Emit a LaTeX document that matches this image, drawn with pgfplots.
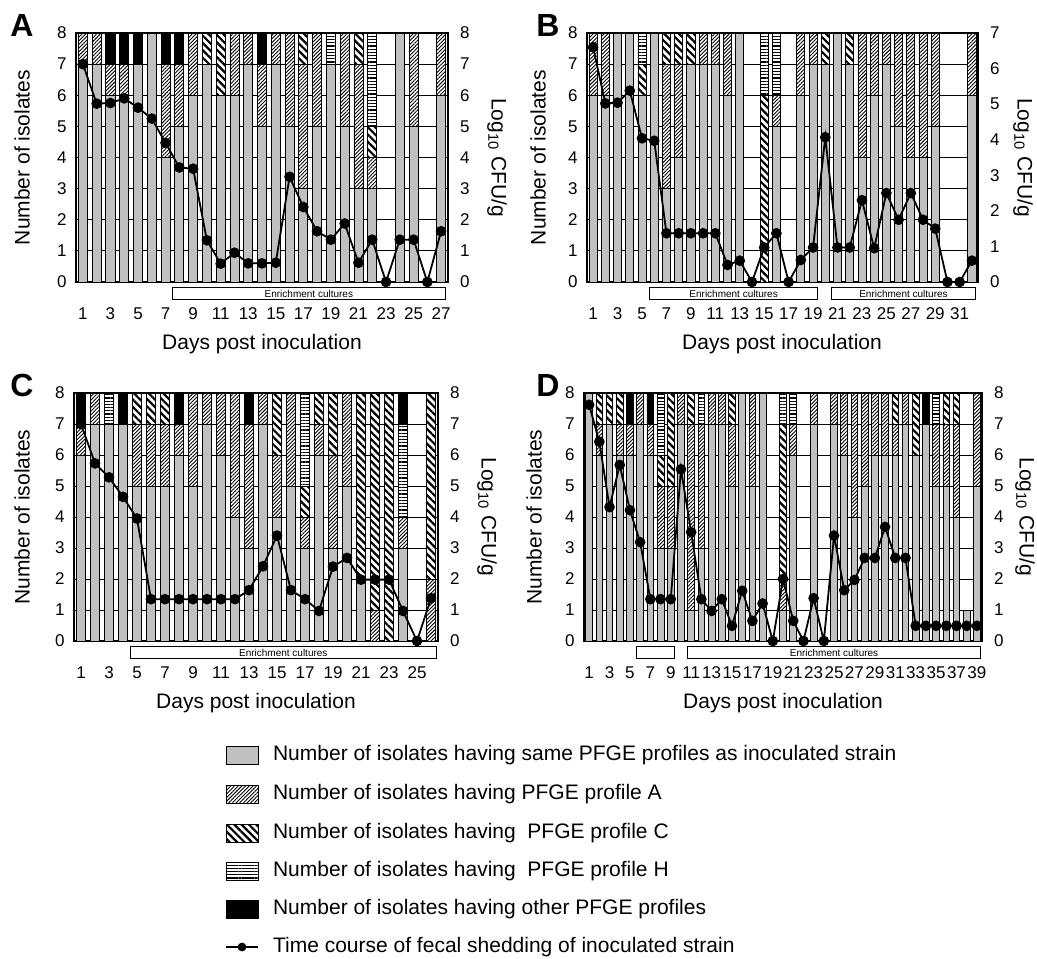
\documentclass[border=0pt]{standalone}
\usepackage{fontspec}
\setmainfont{Liberation Sans}
\usepackage{pgfplots}
\usepackage{pgfplotstable}
\pgfplotsset{compat=1.18}
\usetikzlibrary{patterns.meta}

\definecolor{same}{RGB}{192,192,192}

% columns: day, same strain (G), profile A, profile C, profile H, other (O), log10 CFU/g (L)
\pgfplotstableread{
day G A C H O L
1 7 1 0 0 0 7.00
2 7 1 0 0 0 5.73
3 6 1 0 0 1 5.75
4 6 1 0 0 1 5.90
5 7 0 0 0 1 5.60
6 8 0 0 0 0 5.25
7 4 3 0 0 1 4.47
8 5 2 0 0 1 3.68
9 6 2 0 0 0 3.64
10 7 0 1 0 0 1.34
11 6 0 2 0 0 0.59
12 6 2 0 0 0 0.94
13 7 1 0 0 0 0.60
14 5 2 0 0 1 0.60
15 7 1 0 0 0 0.62
16 5 3 0 0 0 3.38
17 3 4 1 0 0 2.41
18 5 3 0 0 0 1.63
19 7 0 0 1 0 1.36
20 5 3 0 0 0 1.88
21 3 4 1 0 0 0.62
22 3 1 1 3 0 1.36
23 0 0 0 0 0 0.00
24 8 0 0 0 0 1.36
25 5 3 0 0 0 1.36
26 0 0 0 0 0 0.00
27 6 2 0 0 0 1.63
}\tabA

\pgfplotstableread{
day G A C H O L
1 6 2 0 0 0 6.60
2 6 2 0 0 0 5.02
3 8 0 0 0 0 5.04
4 8 0 0 0 0 5.38
5 6 0 1 1 0 4.04
6 8 0 0 0 0 3.97
7 3 4 1 0 0 1.37
8 4 3 1 0 0 1.37
9 7 0 1 0 0 1.37
10 7 1 0 0 0 1.37
11 7 1 0 0 0 1.37
12 6 2 0 0 0 0.48
13 8 0 0 0 0 0.60
14 0 0 0 0 0 0.00
15 0 0 6 2 0 0.97
16 5 1 0 2 0 1.37
17 0 0 0 0 0 0.00
18 6 2 0 0 0 0.62
19 7 1 0 0 0 0.97
20 7 0 1 0 0 4.07
21 8 0 0 0 0 0.97
22 7 0 1 0 0 0.97
23 4 4 0 0 0 2.30
24 6 2 0 0 0 0.95
25 7 1 0 0 0 2.50
26 5 3 0 0 0 1.75
27 4 4 0 0 0 2.50
28 4 4 0 0 0 1.75
29 5 3 0 0 0 1.50
30 0 0 0 0 0 0.00
31 0 0 0 0 0 0.00
32 6 2 0 0 0 0.60
}\tabB

\pgfplotstableread{
day G A C H O L
1 6 1 0 0 1 7.00
2 7 1 0 0 0 5.73
3 7 0 0 1 0 5.28
4 7 0 0 0 1 4.65
5 5 2 1 0 0 3.95
6 5 2 1 0 0 1.35
7 5 2 1 0 0 1.35
8 6 1 0 0 1 1.35
9 5 3 0 0 0 1.35
10 7 1 0 0 0 1.35
11 6 2 0 0 0 1.35
12 4 4 0 0 0 1.35
13 3 4 0 0 1 1.64
14 7 1 0 0 0 2.41
15 4 2 2 0 0 3.40
16 5 3 0 0 0 1.64
17 3 1 1 3 0 1.35
18 6 1 1 0 0 0.97
19 3 3 2 0 0 2.40
20 5 3 0 0 0 2.68
21 2 0 6 0 0 1.98
22 0 1 7 0 0 1.98
23 0 0 8 0 0 1.98
24 3 1 0 3 1 0.97
25 0 0 0 0 0 0.00
26 0 2 6 0 0 1.38
}\tabC

\pgfplotstableread{
day G A C H O L
1 8 0 0 0 0 7.62
2 6 1 1 0 0 6.43
3 7 0 1 0 0 4.32
4 6 1 1 0 0 5.68
5 6 1 0 0 1 4.22
6 7 1 0 0 0 3.19
7 6 1 0 0 1 1.35
8 3 2 1 2 0 1.35
9 3 2 3 0 0 1.35
10 7 1 0 0 0 5.54
11 1 6 1 0 0 3.51
12 3 4 0 1 0 1.35
13 7 1 0 0 0 0.97
14 7 1 0 0 0 1.35
15 5 2 1 0 0 0.49
16 8 0 0 0 0 1.62
17 5 3 0 0 0 0.65
18 8 0 0 0 0 1.21
19 0 0 0 0 0 0.00
20 1 1 5 1 0 2.00
21 6 1 0 1 0 0.65
22 0 0 0 0 0 0.00
23 7 1 0 0 0 1.38
24 0 0 0 0 0 0.00
25 7 1 0 0 0 3.40
26 6 2 0 0 0 1.64
27 4 4 0 0 0 1.97
28 5 3 0 0 0 2.68
29 6 2 0 0 0 2.68
30 6 2 0 0 0 3.68
31 6 1 1 0 0 2.68
32 7 1 0 0 0 2.68
33 6 0 2 0 0 0.49
34 7 0 0 0 1 0.49
35 5 2 0 1 0 0.49
36 5 2 1 0 0 0.49
37 4 3 1 0 0 0.49
38 1 0 0 0 0 0.49
39 5 3 0 0 0 0.49
}\tabD

\tikzset{
  sG/.style={fill=same, draw=black, line width=0.4pt},
  sA/.style={fill=white, draw=black, line width=0.4pt,
    postaction={pattern={Lines[angle=45,distance=1.3pt,line width=0.45pt]}}},
  sC/.style={fill=white, draw=black, line width=0.4pt,
    postaction={pattern={Lines[angle=-45,distance=2.6pt,line width=1.1pt]}}},
  sH/.style={fill=white, draw=black, line width=0.4pt,
    postaction={pattern={Lines[angle=0,distance=1.6pt,line width=0.6pt]}}},
  sO/.style={fill=black, draw=black, line width=0.4pt},
  sL/.style={black, line width=0.9pt, mark=*, mark size=2.2pt},
  ttl/.style={font=\fontsize{10.5}{12}\selectfont},
  enr/.style={font=\fontsize{5}{6}\selectfont, inner sep=0pt},
  ebox/.style={line width=0.5pt},
}

\pgfplotsset{
  isolates/.style={
    scale only axis, anchor=south west,
    ybar stacked, bar width=0.66,
    ymin=0, ymax=8, ytick={0,...,8},
    ytick pos=left, xtick pos=bottom, major tick length=0pt,
    ymajorgrids, grid style={black, line width=0.4pt},
    axis line style={line width=0.6pt},
    ticklabel style={font=\fontsize{8.5}{9}\selectfont},
    /pgf/number format/assume math mode=true,
    yticklabel style={xshift=-1.2pt},
    xticklabel style={yshift=-9.5pt},
    clip=false,
  },
  shedding/.style={
    scale only axis, anchor=south west,
    axis x line=none, axis y line*=right,
    ymin=0, major tick length=0pt,
    axis line style={line width=0.6pt},
    ticklabel style={font=\fontsize{8.5}{9}\selectfont},
    /pgf/number format/assume math mode=true,
    yticklabel style={xshift=2.5pt},
  },
}

\begin{document}
\begin{tikzpicture}
\useasboundingbox (0,0) rectangle (518.5pt,-479pt);

% ---------- A ----------
\begin{axis}[isolates, at={(38pt,-141pt)}, width=186pt, height=124.5pt,
  xmin=0.5, xmax=27.5, xtick={1,3,...,27}]
\addplot[sG] table[x=day,y=G] {\tabA};
\addplot[sA] table[x=day,y=A] {\tabA};
\addplot[sC] table[x=day,y=C] {\tabA};
\addplot[sH] table[x=day,y=H] {\tabA};
\addplot[sO] table[x=day,y=O] {\tabA};
\draw[ebox] (axis cs:7.5,-0.19) rectangle (axis cs:27.3,-0.55);
\node[enr] at (axis cs:17.4,-0.37) {Enrichment cultures};
\end{axis}
\begin{axis}[shedding, at={(38pt,-141pt)}, width=186pt, height=124.5pt,
  xmin=0.5, xmax=27.5, ymax=8, ytick={0,...,8}]
\addplot[sL] table[x=day,y=L] {\tabA};
\end{axis}

% ---------- B ----------
\begin{axis}[isolates, at={(293.5pt,-141pt)}, width=195.5pt, height=124.5pt,
  xmin=0.5, xmax=32.5, xtick={1,3,...,31}]
\addplot[sG] table[x=day,y=G] {\tabB};
\addplot[sA] table[x=day,y=A] {\tabB};
\addplot[sC] table[x=day,y=C] {\tabB};
\addplot[sH] table[x=day,y=H] {\tabB};
\addplot[sO] table[x=day,y=O] {\tabB};
\draw[ebox] (axis cs:5.6,-0.19) rectangle (axis cs:19.4,-0.55);
\node[enr] at (axis cs:12.5,-0.37) {Enrichment cultures};
\draw[ebox] (axis cs:20.5,-0.19) rectangle (axis cs:32.3,-0.55);
\node[enr] at (axis cs:26.4,-0.37) {Enrichment cultures};
\end{axis}
\begin{axis}[shedding, at={(293.5pt,-141pt)}, width=195.5pt, height=124.5pt,
  xmin=0.5, xmax=32.5, ymax=7, ytick={0,...,7}]
\addplot[sL] table[x=day,y=L] {\tabB};
\end{axis}

% ---------- C ----------
\begin{axis}[isolates, at={(37pt,-320.5pt)}, width=182pt, height=124pt,
  xmin=0.5, xmax=26.5, xtick={1,3,...,25}]
\addplot[sG] table[x=day,y=G] {\tabC};
\addplot[sA] table[x=day,y=A] {\tabC};
\addplot[sC] table[x=day,y=C] {\tabC};
\addplot[sH] table[x=day,y=H] {\tabC};
\addplot[sO] table[x=day,y=O] {\tabC};
\draw[ebox] (axis cs:4.5,-0.19) rectangle (axis cs:26.4,-0.55);
\node[enr] at (axis cs:15.45,-0.37) {Enrichment cultures};
\end{axis}
\begin{axis}[shedding, at={(37pt,-320.5pt)}, width=182pt, height=124pt,
  xmin=0.5, xmax=26.5, ymax=8, ytick={0,...,8}]
\addplot[sL] table[x=day,y=L] {\tabC};
\end{axis}

% ---------- D ----------
\begin{axis}[isolates, at={(292pt,-320.5pt)}, width=199pt, height=124pt,
  xmin=0.5, xmax=39.5, xtick={1,3,...,39}]
\addplot[sG] table[x=day,y=G] {\tabD};
\addplot[sA] table[x=day,y=A] {\tabD};
\addplot[sC] table[x=day,y=C] {\tabD};
\addplot[sH] table[x=day,y=H] {\tabD};
\addplot[sO] table[x=day,y=O] {\tabD};
\draw[ebox] (axis cs:5.6,-0.19) rectangle (axis cs:9.4,-0.55);
\draw[ebox] (axis cs:10.6,-0.19) rectangle (axis cs:39.4,-0.55);
\node[enr] at (axis cs:25,-0.37) {Enrichment cultures};
\end{axis}
\begin{axis}[shedding, at={(292pt,-320.5pt)}, width=199pt, height=124pt,
  xmin=0.5, xmax=39.5, ymax=8, ytick={0,...,8}]
\addplot[sL] table[x=day,y=L] {\tabD};
\end{axis}

% panel letters and axis titles
\foreach \lx/\ly/\lt in {11/-12.5/A, 274/-12.5/B, 11/-192.5/C, 274/-192.5/D}
  \node[font=\bfseries\fontsize{16}{18}\selectfont] at (\lx pt,\ly pt) {\lt};
\foreach \lx/\ly in {11/-78.75, 269/-78.75, 11/-258.5, 267/-258.5}
  \node[ttl, rotate=90] at (\lx pt,\ly pt) {Number of isolates};
\foreach \lx/\ly in {248.5/-78.75, 511.5/-78.75, 243.5/-258.5, 512.5/-258.5}
  \node[ttl, rotate=-90] at (\lx pt,\ly pt) {Log\textsubscript{10} CFU/g};
\foreach \lx/\ly in {131/-172, 391/-172, 128/-351.5, 391.5/-351.5}
  \node[ttl] at (\lx pt,\ly pt) {Days post inoculation};

% legend
\draw[sG] (113pt,-373pt) rectangle (129pt,-382pt);
\node[ttl, anchor=west] at (133pt,-377.5pt) {Number of isolates having same PFGE profiles as inoculated strain};
\draw[sA] (113pt,-392.5pt) rectangle (129pt,-401.5pt);
\node[ttl, anchor=west] at (133pt,-397pt) {Number of isolates having PFGE profile A};
\draw[sC] (113pt,-412pt) rectangle (129pt,-421pt);
\node[ttl, anchor=west] at (133pt,-416.5pt) {Number of isolates having\ \ PFGE profile C};
\draw[sH] (113pt,-431pt) rectangle (129pt,-440pt);
\node[ttl, anchor=west] at (133pt,-435.5pt) {Number of isolates having\ \ PFGE profile H};
\draw[sO] (113pt,-450pt) rectangle (129pt,-459pt);
\node[ttl, anchor=west] at (133pt,-454.5pt) {Number of isolates having other PFGE profiles};
\draw[line width=0.9pt] (113pt,-473.5pt) -- (129pt,-473.5pt);
\fill (121pt,-473.5pt) circle (2.2pt);
\node[ttl, anchor=west] at (133pt,-473.5pt) {Time course of fecal shedding of inoculated strain};
\end{tikzpicture}
\end{document}
